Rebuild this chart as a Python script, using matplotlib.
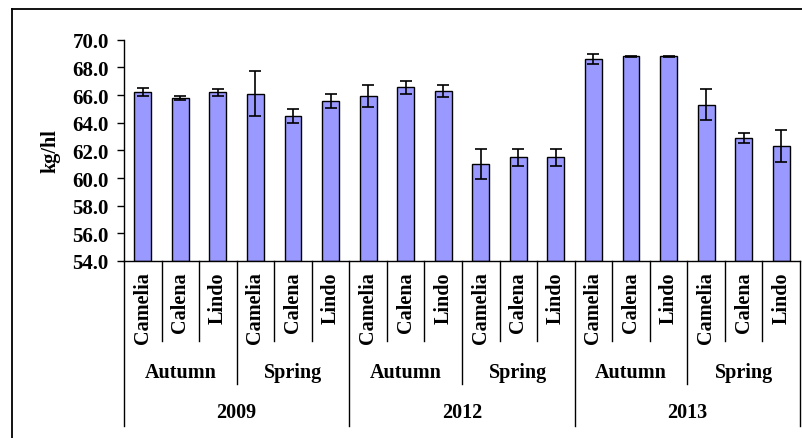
import matplotlib
matplotlib.use("Agg")
import matplotlib.pyplot as plt
import matplotlib.transforms as mtransforms
from matplotlib.lines import Line2D
import numpy as np

# === données ===
years = ["2009", "2012", "2013"]
seasons = ["Autumn", "Spring"]
varieties = ["Camelia", "Calena", "Lindo"]

# poids à l'hectolitre (kg/hl), ordre : année > saison > variété
values = [66.2, 65.8, 66.2, 66.1, 64.5, 65.55,
          65.9, 66.55, 66.3, 61.0, 61.5, 61.5,
          68.6, 68.8, 68.8, 65.3, 62.9, 62.3]
errors = [0.3, 0.15, 0.25, 1.65, 0.5, 0.5,
          0.8, 0.45, 0.45, 1.1, 0.6, 0.6,
          0.35, 0.05, 0.03, 1.1, 0.35, 1.15]

yticks = [54, 56, 58, 60, 62, 64, 66, 68, 70]

plt.rcParams["font.family"] = ["Liberation Serif", "DejaVu Serif"]
plt.rcParams["font.weight"] = "bold"
FS = 14.5

fig = plt.figure(figsize=(8.02, 4.39), dpi=100)
ax = fig.add_axes([124 / 802, 1 - 262 / 439, 676 / 802, 221.3 / 439])

n = len(values)
x = np.arange(n)
ax.bar(x, np.array(values) - 54, bottom=54, width=0.45, color="#9999ff",
       edgecolor="black", linewidth=1.0, zorder=2)
ax.errorbar(x, values, yerr=errors, fmt="none", ecolor="black",
            elinewidth=1.2, capsize=4.5, capthick=1.2, zorder=3)

ax.set_xlim(-0.5, n - 0.5)
ax.set_ylim(54, 70)
ax.set_yticks(yticks)
ax.set_yticklabels([f"{v:.1f}" for v in yticks], fontsize=15, fontweight="bold")
ax.tick_params(axis="y", direction="out", length=5, width=1, pad=6)
ax.set_xticks([])
for s in ["top", "right"]:
    ax.spines[s].set_visible(False)
ax.spines["left"].set_linewidth(1)
ax.spines["bottom"].set_linewidth(1)

ax.set_ylabel("kg/hl", fontsize=FS, fontweight="bold")
ax.yaxis.set_label_coords(-0.094, 0.5)

# === étiquettes hiérarchiques sous l'axe ===
trans = mtransforms.blended_transform_factory(ax.transData, ax.transAxes)
y_var_line = -80 / 221
y_season_line = -123 / 221
y_year_line = -165 / 221

for i in range(n):
    ax.text(i, -10 / 221, varieties[i % 3], rotation=90, ha="center", va="top",
            fontsize=FS, fontweight="bold", transform=trans)

for k in range(n + 1):
    if k % 6 == 0:
        yb = y_year_line
    elif k % 3 == 0:
        yb = y_season_line
    else:
        yb = y_var_line
    ax.add_line(Line2D([k - 0.5, k - 0.5], [0, yb], color="black", lw=1,
                       transform=trans, clip_on=False))

for j in range(n // 3):
    ax.text(3 * j + 1, -111 / 221, seasons[j % 2], ha="center", va="center",
            fontsize=FS, fontweight="bold", transform=trans)

for j, yr in enumerate(years):
    ax.text(6 * j + 2.5, -151 / 221, yr, ha="center", va="center",
            fontsize=FS, fontweight="bold", transform=trans)

# === cadre extérieur ===
fig.add_artist(Line2D([12 / 802, 12 / 802], [0, 1 - 10 / 439], color="black",
                      lw=1.3, transform=fig.transFigure))
fig.add_artist(Line2D([12 / 802, 1], [1 - 10 / 439, 1 - 10 / 439], color="black",
                      lw=1.3, transform=fig.transFigure))

plt.savefig("out.png", dpi=100)
